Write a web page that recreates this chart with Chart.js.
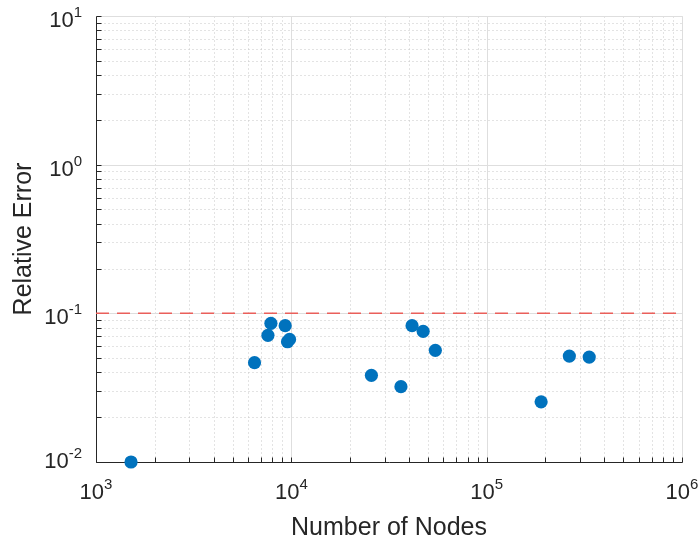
<!DOCTYPE html>
<html>
<head>
<meta charset="utf-8">
<script src="https://cdn.jsdelivr.net/npm/chart.js@4"></script>
<style>
  html, body { margin: 0; padding: 0; background: #fff; }
  #wrap { width: 700px; height: 541px; position: relative; }
</style>
</head>
<body>
<div id="wrap"><canvas id="errChart"></canvas></div>
<script>
// values
const nodeCounts = [1511, 6480, 7590, 7860, 9300, 9560, 9790, 25700, 36400, 41500, 47300, 54600, 190000, 265000, 335000];
const relErrors = [0.0100, 0.0466, 0.0711, 0.0857, 0.0826, 0.0644, 0.0668, 0.0383, 0.0321, 0.0826, 0.0757, 0.0564, 0.0254, 0.0516, 0.0508];
const errorThreshold = 0.1;

// axis decades (exponents) and minor steps inside each decade
const xDecades = [3, 4, 5, 6];
const yDecades = [-2, -1, 0, 1];
const minorSteps = [2, 3, 4, 5, 6, 7, 8, 9];

const xTitle = 'Number of Nodes';
const yTitle = 'Relative Error';

const FONT = '"Liberation Sans", Arial, Helvetica, sans-serif';
const TEXT_COLOR = '#262626';

function drawPow(ctx, exp, left, baseline) {
    ctx.font = '22px ' + FONT;
    ctx.textAlign = 'left';
    ctx.textBaseline = 'alphabetic';
    ctx.fillText('10', left, baseline);
    const wb = ctx.measureText('10').width;
    ctx.font = '15px ' + FONT;
    ctx.fillText(String(exp), left + wb, baseline - 10);
}

function powWidth(ctx, exp) {
    ctx.font = '22px ' + FONT;
    const wb = ctx.measureText('10').width;
    ctx.font = '15px ' + FONT;
    return wb + ctx.measureText(String(exp)).width;
}

const matlabAxes = {
    id: 'matlabAxes',
    beforeDatasetsDraw(chart) {
        const { ctx, chartArea: a, scales: { x, y } } = chart;
        const snap = v => Math.round(v) + 0.5;
        const L = snap(a.left), R = snap(a.right), T = snap(a.top), B = snap(a.bottom);

        const xMinor = [], yMinor = [];
        for (let i = 0; i < xDecades.length - 1; i++) {
            minorSteps.forEach(m => xMinor.push(snap(x.getPixelForValue(m * Math.pow(10, xDecades[i])))));
        }
        for (let i = 0; i < yDecades.length - 1; i++) {
            minorSteps.forEach(m => yMinor.push(snap(y.getPixelForValue(m * Math.pow(10, yDecades[i])))));
        }
        const xMajor = xDecades.map(e => snap(x.getPixelForValue(Math.pow(10, e))));
        const yMajor = yDecades.map(e => snap(y.getPixelForValue(Math.pow(10, e))));

        ctx.save();
        ctx.lineWidth = 1;

        // minor dotted grid
        ctx.strokeStyle = '#c6c6c6';
        ctx.setLineDash([1, 3]);
        ctx.beginPath();
        xMinor.forEach(px => { ctx.moveTo(px, T); ctx.lineTo(px, B); });
        yMinor.forEach(py => { ctx.moveTo(L, py); ctx.lineTo(R, py); });
        ctx.stroke();

        // major grid + box
        ctx.setLineDash([]);
        ctx.strokeStyle = '#dedede';
        ctx.beginPath();
        xMajor.forEach(px => { ctx.moveTo(px, T); ctx.lineTo(px, B); });
        yMajor.forEach(py => { ctx.moveTo(L, py); ctx.lineTo(R, py); });
        ctx.moveTo(L, T); ctx.lineTo(R, T);
        ctx.moveTo(R, T); ctx.lineTo(R, B);
        ctx.stroke();

        // left and bottom axes with inward ticks
        ctx.strokeStyle = TEXT_COLOR;
        ctx.beginPath();
        ctx.moveTo(L, T); ctx.lineTo(L, B); ctx.lineTo(R, B);
        const tickLen = 5;
        xMinor.concat(xMajor).forEach(px => { ctx.moveTo(px, B); ctx.lineTo(px, B - tickLen); });
        yMinor.concat(yMajor).forEach(py => { ctx.moveTo(L, py); ctx.lineTo(L + tickLen, py); });
        ctx.stroke();
        ctx.restore();
    },
    afterDraw(chart) {
        const { ctx, chartArea: a, scales: { x, y } } = chart;
        ctx.save();
        ctx.fillStyle = TEXT_COLOR;

        // x tick labels, centred under each decade
        xDecades.forEach(e => {
            const px = x.getPixelForValue(Math.pow(10, e));
            const w = powWidth(ctx, e);
            drawPow(ctx, e, px - w / 2, a.bottom + 37);
        });

        // y tick labels, right aligned left of the axis
        yDecades.forEach((e, i) => {
            const py = y.getPixelForValue(Math.pow(10, e));
            const w = powWidth(ctx, e);
            const shift = i === 0 ? 6 : 11;
            drawPow(ctx, e, a.left - 14 - w, py + shift);
        });

        // axis titles
        ctx.font = '25px ' + FONT;
        ctx.textAlign = 'center';
        ctx.textBaseline = 'alphabetic';
        ctx.fillText(xTitle, (a.left + a.right) / 2, a.bottom + 73);

        ctx.translate(31, (a.top + a.bottom) / 2);
        ctx.rotate(-Math.PI / 2);
        ctx.fillText(yTitle, 0, 0);
        ctx.restore();
    }
};

new Chart(document.getElementById('errChart'), {
    type: 'scatter',
    data: {
        datasets: [
            {
                type: 'scatter',
                data: nodeCounts.map((n, i) => ({ x: n, y: relErrors[i] })),
                backgroundColor: '#0072BD',
                borderWidth: 0,
                pointRadius: 6.6,
                pointHoverRadius: 6.6,
                clip: false,
                order: 1
            },
            {
                type: 'line',
                data: [
                    { x: Math.pow(10, xDecades[0]), y: errorThreshold },
                    { x: Math.pow(10, xDecades[xDecades.length - 1]), y: errorThreshold }
                ],
                showLine: true,
                borderColor: '#ea5f5a',
                borderWidth: 1.5,
                borderDash: [13, 8],
                pointRadius: 0,
                fill: false,
                order: 2
            }
        ]
    },
    options: {
        responsive: true,
        maintainAspectRatio: false,
        animation: false,
        layout: {
            padding: { left: 96, right: 18, top: 16, bottom: 79 }
        },
        plugins: {
            legend: { display: false },
            tooltip: { enabled: false }
        },
        scales: {
            x: { type: 'logarithmic', min: 1e3, max: 1e6, display: false },
            y: { type: 'logarithmic', min: 1e-2, max: 1e1, display: false }
        }
    },
    plugins: [matlabAxes]
});
</script>
</body>
</html>
